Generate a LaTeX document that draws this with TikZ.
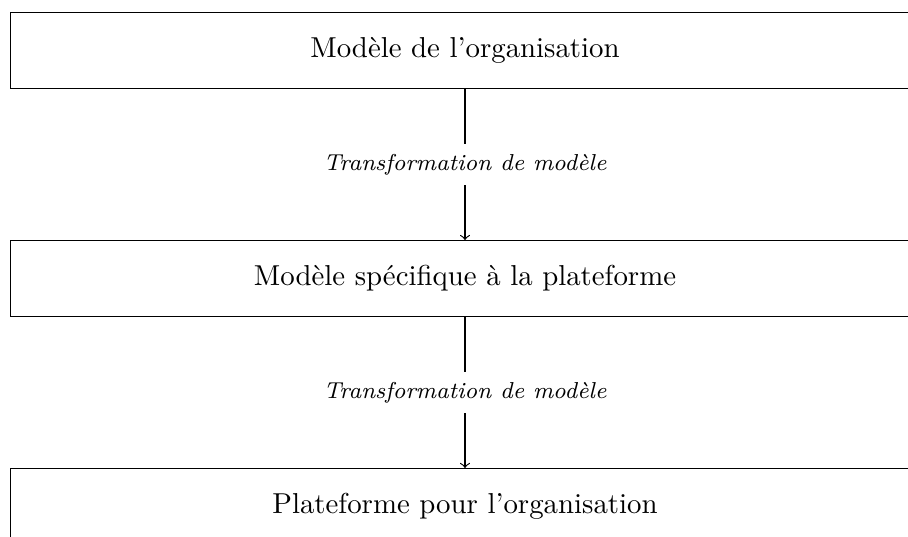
\documentclass[tikz,border=0pt]{standalone}
\usepackage{tikz}
\usetikzlibrary{positioning}

\begin{document}
\begin{tikzpicture}[
        x=0.347pt, y=-0.347pt,
        node distance=52.5pt,
        niveau/.style={draw, minimum width=315.4pt, minimum height=26.2pt},
        etiquette/.style={fill=white, font=\footnotesize\itshape}
    ]
    \useasboundingbox (0,0) rectangle (908,536);
    \node[niveau] (org) at (465,50.5) {Modèle de l'organisation};
    \node[niveau, below=of org] (psm) {Modèle spécifique à la plateforme};
    \node[niveau, below=of psm] (plat) {Plateforme pour l'organisation};
    \draw[->] (org) -- node[etiquette] (trans1) {Transformation de modèle} (psm);
    \draw[->] (psm) -- node[etiquette] (trans2) {Transformation de modèle} (plat);
\end{tikzpicture}
\end{document}
